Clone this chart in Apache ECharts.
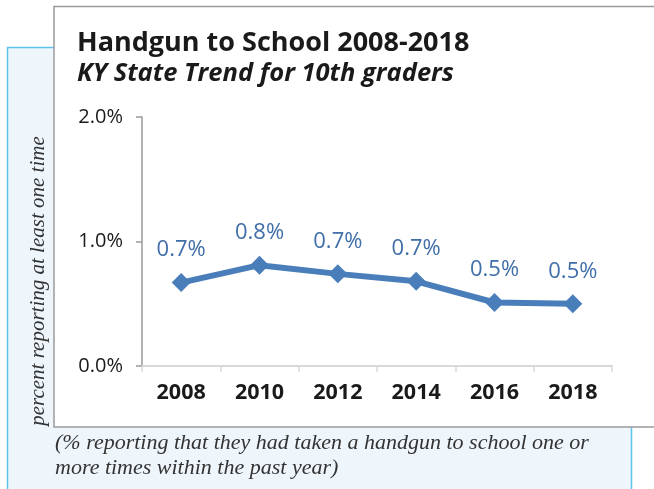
<!DOCTYPE html>
<html>
<head>
<meta charset="utf-8">
<script src="https://cdn.jsdelivr.net/npm/echarts@6/dist/echarts.min.js"></script>
<style>
  html, body { margin: 0; padding: 0; background: #fff; overflow: hidden; }
  #main { width: 654px; height: 489px; }
</style>
</head>
<body>
<div id="main"></div>
<script>
  // data
  const years = ['2008', '2010', '2012', '2014', '2016', '2018']
  const percent = [0.67, 0.81, 0.74, 0.68, 0.51, 0.5]
  const pointLabels = ['0.7%', '0.8%', '0.7%', '0.7%', '0.5%', '0.5%']

  const titleText = 'Handgun to School 2008-2018'
  const subText = 'KY State Trend for 10th graders'
  const yName = 'percent reporting at least one time'
  const caption = ['(% reporting that they had taken a handgun to school one or', 'more times within the past year)']

  let myChart = echarts.init(document.getElementById('main'))

  let option = {
    animation: false,
    graphic: [
      { // light blue panel
        type: 'rect', z: -10,
        shape: { x: 7.5, y: 47.5, width: 624, height: 460 },
        style: { fill: '#eef6fc', stroke: '#5ec3ee', lineWidth: 1.5 }
      },
      { // white chart card, right side runs off the page
        type: 'rect', z: -9,
        shape: { x: 54, y: 6.5, width: 600, height: 420.5 },
        style: { fill: '#ffffff' }
      },
      {
        type: 'polyline', z: -8,
        shape: { points: [[654, 6.5], [54, 6.5], [54, 427], [654, 427]] },
        style: { fill: null, stroke: '#9a9a9a', lineWidth: 1.5 }
      },
      {
        type: 'text', z: 5,
        x: 77, y: 43,
        style: {
          text: titleText, verticalAlign: 'middle',
          fontFamily: 'Open Sans', fontWeight: 'bold', fontSize: 27, fill: '#1a1a1a'
        }
      },
      {
        type: 'text', z: 5,
        x: 77, y: 74,
        style: {
          text: subText, verticalAlign: 'middle',
          fontFamily: 'Open Sans', fontWeight: 'bold', fontStyle: 'italic', fontSize: 25.5, fill: '#1a1a1a'
        }
      },
      {
        type: 'text', z: 5,
        x: 38, y: 281, rotation: Math.PI / 2,
        style: {
          text: yName, align: 'center', verticalAlign: 'middle',
          fontFamily: 'Liberation Serif', fontStyle: 'italic', fontSize: 21, fill: '#333'
        }
      },
      {
        type: 'text', z: 5,
        x: 55, y: 456,
        style: {
          text: caption.join('\n'), verticalAlign: 'middle', lineHeight: 25,
          fontFamily: 'Liberation Serif', fontStyle: 'italic', fontSize: 22, fill: '#333'
        }
      }
    ],
    grid: { left: 142, right: 42, top: 117, bottom: 123 },
    xAxis: {
      type: 'category',
      data: years,
      boundaryGap: true,
      axisLine: { lineStyle: { color: '#d9d9d9', width: 2 } },
      axisTick: { show: true, length: 6, lineStyle: { color: '#d9d9d9', width: 1.5 } },
      axisLabel: { margin: 16, fontFamily: 'Open Sans', fontWeight: 'bold', fontSize: 21.5, color: '#1a1a1a' }
    },
    yAxis: {
      type: 'value',
      min: 0, max: 2, interval: 1,
      splitLine: { show: false },
      axisLine: { show: true, lineStyle: { color: '#9a9a9a', width: 1.5 } },
      axisTick: { show: true, length: 6, lineStyle: { color: '#9a9a9a', width: 1.5 } },
      axisLabel: {
        margin: 19, fontFamily: 'Open Sans', fontSize: 20, color: '#1a1a1a',
        formatter: v => v.toFixed(1) + '%'
      }
    },
    series: [
      {
        type: 'line',
        data: percent,
        symbol: 'diamond',
        symbolSize: 19,
        lineStyle: { color: '#4a7ebb', width: 6 },
        itemStyle: { color: '#4a7ebb' },
        label: {
          show: true, position: 'top', distance: 12,
          fontFamily: 'Open Sans', fontSize: 22, color: '#3f6ea8',
          formatter: p => pointLabels[p.dataIndex]
        }
      }
    ]
  }

  myChart.setOption(option)
</script>
</body>
</html>
